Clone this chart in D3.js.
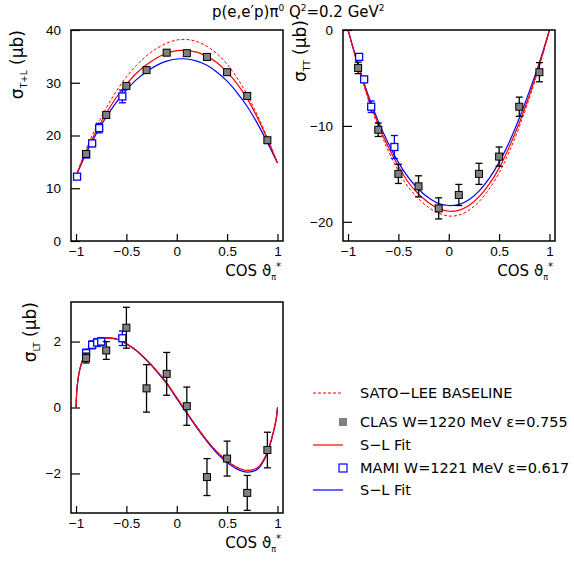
<!DOCTYPE html>
<html>
<head>
<meta charset="utf-8">
<script src="https://cdn.jsdelivr.net/npm/d3@7"></script>
<style>
  body { margin: 0; background: #fff; }
  svg { font-family: "DejaVu Sans", Verdana, sans-serif; }
  .tick text { font-size: 13.5px; fill: #000; }
  .tick line { stroke: #000; stroke-width: 1.2; }
</style>
</head>
<body>
<svg id="chart" width="574" height="561"></svg>
<script>
// ---- data ----
const cosGrid = [-1, -0.9, -0.8, -0.7, -0.6, -0.5, -0.4, -0.3, -0.2, -0.1, 0,
                 0.1, 0.2, 0.3, 0.4, 0.5, 0.6, 0.7, 0.8, 0.9, 1];
const ltGrid = [-1, -0.99, -0.97, -0.95, -0.9, -0.85, -0.8, -0.7, -0.6, -0.5, -0.4, -0.3,
                -0.2, -0.1, 0, 0.1, 0.2, 0.3, 0.4, 0.5, 0.6, 0.7, 0.8, 0.85, 0.9,
                0.95, 0.97, 0.99, 1];

// sigma T+L
const tlBase = [12.3, 17.4, 21.6, 25.2, 28.4, 31.1, 33.3, 35.1, 36.5, 37.5, 38.1,
                38.2, 37.8, 36.9, 35.5, 33.5, 30.9, 27.7, 23.9, 19.6, 14.8];
const tlClasFit = [12.3, 17.0, 20.8, 24.2, 27.2, 29.7, 31.8, 33.4, 34.7, 35.6, 36.1,
                   36.1, 35.8, 35.0, 33.8, 32.0, 29.8, 27.0, 23.4, 19.3, 14.8];
const tlMamiFit = [12.3, 16.6, 20.3, 23.5, 26.3, 28.6, 30.6, 32.1, 33.3, 34.1, 34.5,
                   34.5, 34.1, 33.3, 32.0, 30.3, 28.1, 25.5, 22.3, 18.7, 14.8];

// sigma TT
const ttBase = [0, -3.8, -7.2, -10.1, -12.6, -14.7, -16.4, -17.6, -18.5, -19.1, -19.4,
                -19.3, -18.8, -17.9, -16.6, -14.9, -12.7, -10.1, -7.1, -3.8, 0];
const ttClasFit = [0, -3.7, -7.0, -9.8, -12.2, -14.2, -15.9, -17.1, -18.0, -18.6, -18.9,
                   -18.8, -18.3, -17.4, -16.1, -14.4, -12.2, -9.7, -6.8, -3.6, 0];
const ttMamiFit = [0, -3.6, -6.8, -9.5, -11.8, -13.8, -15.4, -16.6, -17.5, -18.1, -18.3,
                   -18.2, -17.7, -16.8, -15.5, -13.8, -11.7, -9.2, -6.4, -3.4, 0];

// sigma LT
const ltBase = [0, 0.6, 1.05, 1.3, 1.68, 1.88, 2.0, 2.1, 2.07, 1.93, 1.73, 1.45,
                1.12, 0.75, 0.30, -0.15, -0.58, -0.99, -1.34, -1.61, -1.81, -1.91, -1.83,
                -1.65, -1.35, -0.85, -0.6, -0.3, 0];
const ltClasFit = [0, 0.6, 1.05, 1.3, 1.68, 1.88, 2.0, 2.1, 2.07, 1.93, 1.73, 1.45,
                   1.12, 0.75, 0.30, -0.15, -0.59, -1.0, -1.35, -1.62, -1.82, -1.91, -1.83,
                   -1.65, -1.35, -0.85, -0.6, -0.3, 0];
const ltMamiFit = [0, 0.6, 1.05, 1.3, 1.68, 1.89, 2.01, 2.11, 2.08, 1.93, 1.72, 1.43,
                   1.1, 0.72, 0.27, -0.18, -0.62, -1.03, -1.39, -1.67, -1.87, -1.96, -1.88,
                   -1.69, -1.38, -0.87, -0.62, -0.31, 0];

// CLAS points
const clasCos = [-0.9, -0.7, -0.5, -0.3, -0.1, 0.1, 0.3, 0.5, 0.7, 0.9];
const clasTL = [16.5, 23.9, 29.4, 32.4, 35.7, 35.6, 34.9, 32.0, 27.5, 19.1];
const clasTLerr = [0.5, 0.5, 0.5, 0.5, 0.5, 0.5, 0.5, 0.5, 0.5, 0.5];
const clasTT = [-3.95, -10.4, -15.0, -16.3, -18.6, -17.2, -15.0, -13.2, -8.0, -4.4];
const clasTTerr = [0.6, 0.7, 1.0, 1.1, 1.1, 1.1, 1.1, 1.0, 1.0, 1.0];
const clasLT = [1.50, 1.73, 2.42, 0.58, 1.02, 0.04, -2.11, -1.55, -2.59, -1.29];
const clasLTerr = [0.15, 0.27, 0.62, 0.72, 0.65, 0.58, 0.56, 0.53, 0.53, 0.54];

// MAMI points
const mamiCosTL = [-0.99, -0.9, -0.84, -0.77, -0.54];
const mamiTL = [12.2, 16.4, 18.5, 21.4, 27.4];
const mamiTLerr = [0.4, 0.5, 0.6, 0.9, 1.2];
const mamiCosTT = [-0.89, -0.84, -0.77, -0.54];
const mamiTT = [-2.8, -5.15, -8.0, -12.2];
const mamiTTerr = [0.3, 0.3, 0.6, 1.2];
const mamiCosLT = [-0.9, -0.84, -0.79, -0.75, -0.54];
const mamiLT = [1.65, 1.9, 1.97, 2.0, 2.1];
const mamiLTerr = [0.12, 0.12, 0.12, 0.12, 0.22];

const xTicks = [-1, -0.5, 0, 0.5, 1];

const RED = '#ff0000', BLUE = '#0000ff', GRAY = '#808080';

const svg = d3.select('#chart');
const zip = (xs, ys, es) => xs.map((x, i) => ({ x: x, y: ys[i], e: es ? es[i] : 0 }));
const fmt = d => String(d).replace('-', '\u2212');

function drawPanel(p) {
    const x = d3.scaleLinear().domain([-1.05, 1.055]).range([p.left, p.left + 212]);
    const y = d3.scaleLinear().domain(p.yDomain).range([p.top + 211, p.top]);
    const g = svg.append('g');

    const clipId = 'clip' + p.id;
    g.append('clipPath').attr('id', clipId)
        .append('rect').attr('x', p.left).attr('y', p.top).attr('width', 212).attr('height', 211);

    // axes, ticks pointing inward
    g.append('g')
        .attr('transform', `translate(0,${p.top + 211})`)
        .call(d3.axisBottom(x).tickValues(xTicks).tickSize(-7).tickPadding(5).tickFormat(fmt))
        .call(a => a.select('.domain').remove());
    g.append('g')
        .attr('transform', `translate(${p.left},0)`)
        .call(d3.axisLeft(y).tickValues(p.yTicks).tickSize(-9).tickPadding(10).tickFormat(fmt))
        .call(a => a.select('.domain').remove());

    const plot = g.append('g').attr('clip-path', `url(#${clipId})`);
    const line = d3.line().x(d => x(d.x)).y(d => y(d.y)).curve(d3.curveCatmullRom.alpha(0.5));

    plot.append('path').datum(zip(p.grid, p.base)).attr('d', line)
        .attr('fill', 'none').attr('stroke', RED).attr('stroke-width', 1).attr('stroke-dasharray', '3,2');
    plot.append('path').datum(zip(p.grid, p.mamiFit)).attr('d', line)
        .attr('fill', 'none').attr('stroke', BLUE).attr('stroke-width', 1.2);
    plot.append('path').datum(zip(p.grid, p.clasFit)).attr('d', line)
        .attr('fill', 'none').attr('stroke', RED).attr('stroke-width', 1.2);

    // error bars
    function errBars(data, color) {
        const eb = plot.selectAll(null).data(data).enter().append('g')
            .attr('stroke', color).attr('stroke-width', 1.3);
        eb.append('line').attr('x1', d => x(d.x)).attr('x2', d => x(d.x))
            .attr('y1', d => y(d.y - d.e)).attr('y2', d => y(d.y + d.e));
        eb.append('line').attr('x1', d => x(d.x) - 3.5).attr('x2', d => x(d.x) + 3.5)
            .attr('y1', d => y(d.y - d.e)).attr('y2', d => y(d.y - d.e));
        eb.append('line').attr('x1', d => x(d.x) - 3.5).attr('x2', d => x(d.x) + 3.5)
            .attr('y1', d => y(d.y + d.e)).attr('y2', d => y(d.y + d.e));
    }
    const mami = zip(p.mamiCos, p.mami, p.mamiErr);
    const clas = zip(clasCos, p.clas, p.clasErr);
    errBars(mami, BLUE);
    plot.selectAll(null).data(mami).enter().append('rect')
        .attr('x', d => x(d.x) - 3.5).attr('y', d => y(d.y) - 3.5)
        .attr('width', 7).attr('height', 7)
        .attr('fill', '#fff').attr('stroke', BLUE).attr('stroke-width', 1.3);
    errBars(clas, '#000');
    plot.selectAll(null).data(clas).enter().append('rect')
        .attr('x', d => x(d.x) - 3.5).attr('y', d => y(d.y) - 3.5)
        .attr('width', 7).attr('height', 7)
        .attr('fill', GRAY).attr('stroke', '#000').attr('stroke-width', 1);

    // frame
    g.append('rect').attr('x', p.left).attr('y', p.top).attr('width', 212).attr('height', 211)
        .attr('fill', 'none').attr('stroke', '#000').attr('stroke-width', 1.5);

    // y label (rotated, end aligned near top of frame)
    const yl = g.append('text')
        .attr('transform', `translate(${p.left - p.yLabOff},${p.top + p.yLabTop}) rotate(-90)`)
        .attr('text-anchor', 'end').attr('font-size', 17);
    yl.append('tspan').text('σ');
    yl.append('tspan').attr('font-size', 9).attr('dy', 4).text(p.sub);
    yl.append('tspan').attr('dy', -4).text(' (μb)');

    // x label
    const xl = g.append('text')
        .attr('x', p.left + 210).attr('y', p.top + 246)
        .attr('text-anchor', 'end').attr('font-size', 15);
    xl.append('tspan').text('COS ϑ');
    xl.append('tspan').attr('font-size', 8).attr('dy', 4).text('π');
    xl.append('tspan').attr('font-size', 10).attr('dy', -10).text('*');
}

drawPanel({ id: 1, left: 71, top: 30, yDomain: [0, 40], yTicks: [0, 10, 20, 30, 40],
            grid: cosGrid, base: tlBase, clasFit: tlClasFit, mamiFit: tlMamiFit,
            clas: clasTL, clasErr: clasTLerr, mamiCos: mamiCosTL, mami: mamiTL, mamiErr: mamiTLerr,
            sub: 'T+L', yLabOff: 48, yLabTop: 0 });
drawPanel({ id: 2, left: 343, top: 30, yDomain: [-22, 0], yTicks: [-20, -10, 0],
            grid: cosGrid, base: ttBase, clasFit: ttClasFit, mamiFit: ttMamiFit,
            clas: clasTT, clasErr: clasTTerr, mamiCos: mamiCosTT, mami: mamiTT, mamiErr: mamiTTerr,
            sub: 'TT', yLabOff: 37, yLabTop: -10 });
drawPanel({ id: 3, left: 71, top: 302, yDomain: [-3.2, 3.2], yTicks: [-2, 0, 2],
            grid: ltGrid, base: ltBase, clasFit: ltClasFit, mamiFit: ltMamiFit,
            clas: clasLT, clasErr: clasLTerr, mamiCos: mamiCosLT, mami: mamiLT, mamiErr: mamiLTerr,
            sub: 'LT', yLabOff: 35, yLabTop: 0 });

// title
const title = svg.append('text').attr('x', 212).attr('y', 17).attr('font-size', 15);
title.append('tspan').text('p(e,e′p)π');
title.append('tspan').attr('font-size', 9).attr('dy', -6).text('0');
title.append('tspan').attr('dy', 6).text('  Q');
title.append('tspan').attr('font-size', 9).attr('dy', -6).text('2');
title.append('tspan').attr('dy', 6).text('=0.2 GeV');
title.append('tspan').attr('font-size', 9).attr('dy', -6).text('2');

// legend
const legend = svg.append('g').attr('font-size', 14.5);
const legRows = [
    { y: 393, text: 'SATO\u2212LEE BASELINE', kind: 'dash' },
    { y: 422, text: 'CLAS W=1220 MeV ε=0.755', kind: 'clas' },
    { y: 445, text: 'S\u2212L Fit', kind: 'red' },
    { y: 468, text: 'MAMI W=1221 MeV ε=0.617', kind: 'mami' },
    { y: 490, text: 'S\u2212L Fit', kind: 'blue' }
];
legRows.forEach(r => {
    if (r.kind === 'dash' || r.kind === 'red' || r.kind === 'blue') {
        legend.append('line').attr('x1', 313).attr('x2', 343).attr('y1', r.y).attr('y2', r.y)
            .attr('stroke', r.kind === 'blue' ? BLUE : RED).attr('stroke-width', 1.2)
            .attr('stroke-dasharray', r.kind === 'dash' ? '3,2' : null);
    } else if (r.kind === 'clas') {
        legend.append('rect').attr('x', 339).attr('y', r.y - 4).attr('width', 8).attr('height', 8)
            .attr('fill', GRAY);
    } else {
        legend.append('rect').attr('x', 339).attr('y', r.y - 4).attr('width', 8).attr('height', 8)
            .attr('fill', '#fff').attr('stroke', BLUE).attr('stroke-width', 1.2);
    }
    legend.append('text').attr('x', 360).attr('y', r.y + 5).text(r.text);
});
</script>
</body>
</html>
